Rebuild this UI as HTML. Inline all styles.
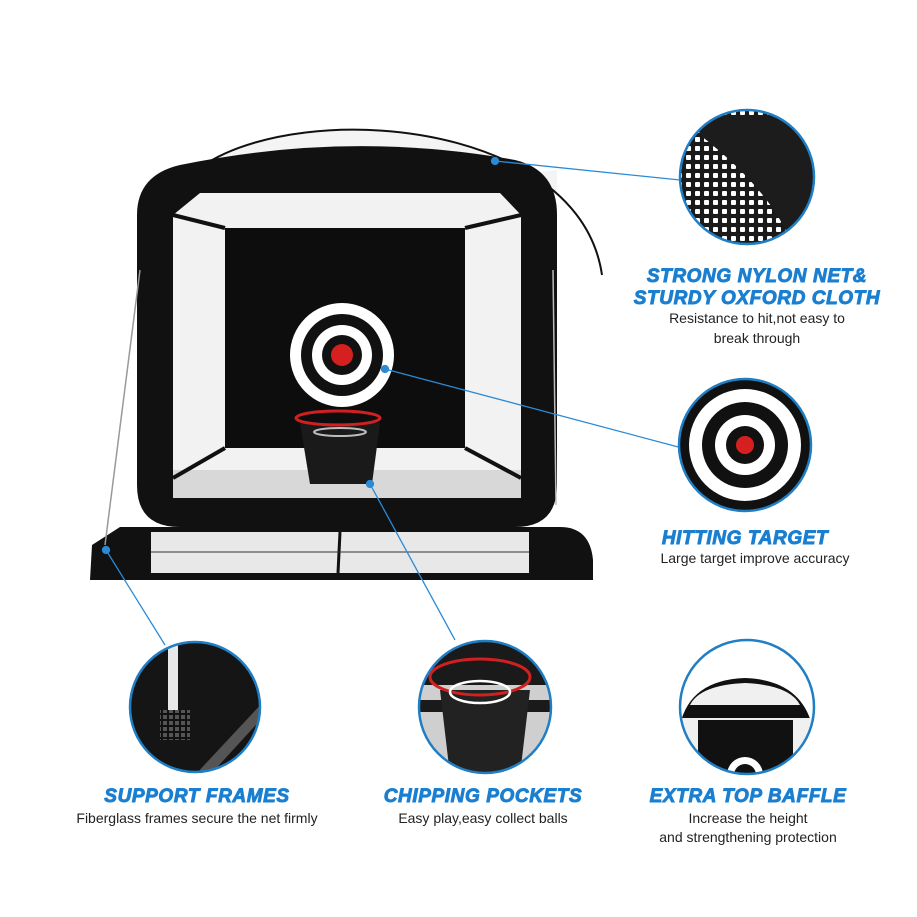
<!DOCTYPE html>
<html><head><style>
body{margin:0;background:#fff;}
svg{display:block;}
.h{font-family:"Liberation Sans",sans-serif;font-weight:bold;font-style:italic;fill:#1a7fd0;stroke:#1a7fd0;stroke-width:0.9;font-size:19px;text-anchor:middle;letter-spacing:0.6px;}
.s{font-family:"Liberation Sans",sans-serif;fill:#222;font-size:14px;text-anchor:middle;}
</style></head><body>
<svg width="917" height="917" viewBox="0 0 917 917">
<defs>
<pattern id="mesh" width="6" height="6" patternUnits="userSpaceOnUse">
<rect width="6" height="6" fill="#111"/><rect x="1" y="1" width="4" height="4" fill="#555"/>
</pattern>
<pattern id="meshw" width="9" height="9" patternUnits="userSpaceOnUse">
<rect width="9" height="9" fill="#1a1a1a"/><rect x="2" y="2" width="5" height="5" rx="1" fill="#fff"/>
</pattern>
<clipPath id="c1"><circle cx="747" cy="177" r="67"/></clipPath>
<clipPath id="c3"><circle cx="195" cy="707" r="65"/></clipPath>
<clipPath id="c4"><circle cx="485" cy="707" r="66"/></clipPath>
<clipPath id="c5"><circle cx="747" cy="707" r="67"/></clipPath>
</defs>
<!-- arch -->
<path d="M168 215 C185 95, 575 90, 602 275 L557 275 L557 170 Z" fill="#f4f4f4"/>
<rect x="557" y="140" width="50" height="140" fill="#fff"/>
<path d="M168 215 C185 95, 575 90, 602 275" fill="none" stroke="#111" stroke-width="2"/>
<!-- floor -->
<path d="M92 545 L120 527 L560 527 Q590 527 593 560 L593 580 L90 580 Z" fill="#111"/>
<rect x="151" y="532" width="378" height="41" fill="#e8e8e8"/>
<line x1="340" y1="532" x2="338" y2="573" stroke="#111" stroke-width="3"/>
<line x1="151" y1="552" x2="529" y2="552" stroke="#333" stroke-width="1"/>
<!-- frame -->
<path d="M137 215 Q137 175 180 165 Q350 130 515 160 Q557 170 557 215 L557 485 Q557 527 515 527 L180 527 Q137 527 137 485 Z" fill="#111"/>
<path d="M200 193 L500 193 L521 215 L521 478 L500 498 L195 498 L173 478 L173 215 Z" fill="#f2f2f2"/>
<rect x="173" y="470" width="348" height="28" fill="#d8d8d8"/>
<path d="M225 228 L465 228 L465 448 L225 448 Z" fill="#0d0d0d"/>
<path d="M173 215 L225 228 M521 215 L465 228 M173 478 L225 448 M521 478 L465 448" stroke="#111" stroke-width="4"/>
<!-- target -->
<circle cx="342" cy="355" r="52" fill="#fff"/>
<circle cx="342" cy="355" r="41" fill="#111"/>
<circle cx="342" cy="355" r="30" fill="#fff"/>
<circle cx="342" cy="355" r="20" fill="#111"/>
<circle cx="342" cy="355" r="11" fill="#d62020"/>
<!-- hoop -->
<path d="M300 423 L380 423 L372 484 L310 484 Z" fill="#1a1a1a"/>
<ellipse cx="338" cy="418" rx="42" ry="7" fill="none" stroke="#d02020" stroke-width="3"/>
<ellipse cx="340" cy="432" rx="26" ry="4" fill="none" stroke="#bbb" stroke-width="2"/>
<!-- poles -->
<line x1="140" y1="270" x2="105" y2="545" stroke="#999" stroke-width="1.5"/>
<line x1="553" y1="270" x2="556" y2="505" stroke="#bbb" stroke-width="1.5"/>
<!-- leader lines -->
<g stroke="#2a8ad6" stroke-width="1.3" fill="#2a8ad6">
<line x1="495" y1="161" x2="680" y2="180"/><circle cx="495" cy="161" r="3.5"/>
<line x1="385" y1="369" x2="682" y2="448"/><circle cx="385" cy="369" r="3.5"/>
<line x1="370" y1="484" x2="455" y2="640"/><circle cx="370" cy="484" r="3.5"/>
<line x1="106" y1="550" x2="165" y2="645"/><circle cx="106" cy="550" r="3.5"/>
</g>
<!-- circle 1 -->
<g clip-path="url(#c1)"><rect x="678" y="108" width="140" height="140" fill="url(#meshw)"/><path d="M695 115 L830 115 L830 240 L790 240 Q770 190 700 135 Z" fill="#1c1c1c"/></g>
<circle cx="747" cy="177" r="67" fill="none" stroke="#1f7ec4" stroke-width="2.5"/>
<!-- circle 2 target -->
<circle cx="745" cy="445" r="66" fill="#111" stroke="#1f7ec4" stroke-width="2.5"/>
<circle cx="745" cy="445" r="56" fill="#fff"/>
<circle cx="745" cy="445" r="43" fill="#111"/>
<circle cx="745" cy="445" r="30" fill="#fff"/>
<circle cx="745" cy="445" r="19" fill="#111"/>
<circle cx="745" cy="445" r="9" fill="#d62020"/>
<!-- circle 3 -->
<g clip-path="url(#c3)"><rect x="125" y="640" width="140" height="135" fill="#151515"/><path d="M195 775 L265 700 L265 715 L210 775 Z" fill="#555"/><rect x="168" y="640" width="10" height="70" fill="#e8e8e8"/><rect x="160" y="710" width="30" height="30" fill="url(#mesh)"/></g>
<circle cx="195" cy="707" r="65" fill="none" stroke="#1f7ec4" stroke-width="2.5"/>
<!-- circle 4 -->
<g clip-path="url(#c4)"><rect x="415" y="640" width="140" height="140" fill="#cfcfcf"/><rect x="415" y="640" width="140" height="45" fill="#1a1a1a"/><rect x="415" y="700" width="140" height="12" fill="#1a1a1a"/><path d="M440 690 L530 690 L520 775 L450 775 Z" fill="#222"/><ellipse cx="480" cy="677" rx="50" ry="18" fill="none" stroke="#d02020" stroke-width="3"/><ellipse cx="480" cy="692" rx="30" ry="11" fill="none" stroke="#fff" stroke-width="2.5"/></g>
<circle cx="485" cy="707" r="66" fill="none" stroke="#1f7ec4" stroke-width="2.5"/>
<!-- circle 5 -->
<g clip-path="url(#c5)"><rect x="675" y="635" width="145" height="145" fill="#fff"/><path d="M680 725 Q690 680 745 678 Q800 680 812 725 Z" fill="#111"/><path d="M690 705 Q700 685 745 683 Q790 685 800 705 Z" fill="#f0f0f0"/><rect x="680" y="718" width="135" height="60" fill="#f0f0f0"/><rect x="698" y="720" width="95" height="60" fill="#111"/><circle cx="745" cy="775" r="18" fill="#fff"/><circle cx="745" cy="775" r="11" fill="#111"/></g>
<circle cx="747" cy="707" r="67" fill="none" stroke="#1f7ec4" stroke-width="2.5"/>
<!-- text -->
<text class="h" x="757" y="282">STRONG NYLON NET&amp;</text>
<text class="h" x="757" y="304">STURDY OXFORD CLOTH</text>
<text class="s" x="757" y="323">Resistance to hit,not easy to</text>
<text class="s" x="757" y="343">break through</text>
<text class="h" x="745" y="544">HITTING TARGET</text>
<text class="s" x="755" y="563">Large target improve accuracy</text>
<text class="h" x="197" y="802">SUPPORT FRAMES</text>
<text class="s" x="197" y="823">Fiberglass frames secure the net firmly</text>
<text class="h" x="483" y="802">CHIPPING POCKETS</text>
<text class="s" x="483" y="823">Easy play,easy collect balls</text>
<text class="h" x="748" y="802">EXTRA TOP BAFFLE</text>
<text class="s" x="748" y="823">Increase the height</text>
<text class="s" x="748" y="842">and strengthening protection</text>
</svg>
</body></html>
